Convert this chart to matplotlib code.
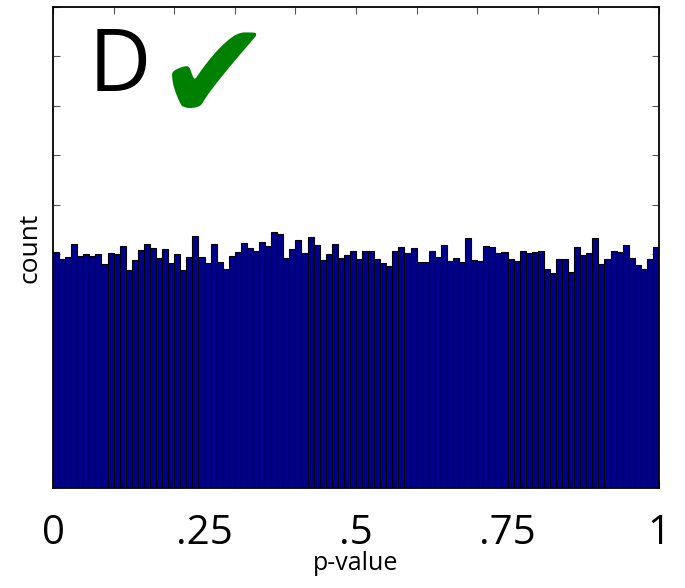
import matplotlib
matplotlib.use("Agg")
import matplotlib.pyplot as plt
import numpy as np

# bar heights (counts) for 100 equal-width p-value bins on [0, 1]
counts = [504, 491, 494, 521, 496, 500, 496, 500, 481, 502,
          500, 518, 469, 488, 509, 522, 512, 493, 510, 482,
          500, 469, 495, 537, 495, 483, 521, 484, 471, 497,
          505, 524, 512, 506, 525, 517, 545, 542, 493, 511,
          529, 502, 536, 519, 488, 500, 521, 493, 498, 506,
          490, 507, 507, 491, 483, 477, 507, 514, 503, 512,
          485, 485, 507, 494, 519, 487, 493, 485, 533, 488,
          487, 517, 515, 503, 505, 490, 487, 507, 502, 505,
          507, 471, 463, 491, 490, 465, 515, 498, 502, 533,
          481, 491, 507, 504, 519, 493, 479, 471, 491, 515]
bin_edges = np.linspace(0, 1, len(counts) + 1)
xtick_marks = [0.0, 0.1, 0.2, 0.3, 0.4, 0.5, 0.6, 0.7, 0.8, 0.9, 1.0]
xlabel_pos = [0, 0.25, 0.5, 0.75, 1]
xlabel_txt = ["0", ".25", ".5", ".75", "1"]
ytick_marks = [100, 200, 300, 400, 500, 600, 700, 800, 900, 1000]
ylims = (28, 1000)

plt.rcParams['font.family'] = ['Open Sans', 'DejaVu Sans']

fig = plt.figure(figsize=(6.85, 5.88), dpi=100)
ax = fig.add_axes([53/685, 100/588, 606/685, 481/588])

widths = np.diff(bin_edges)
ax.bar(bin_edges[:-1], counts, width=widths, align='edge', bottom=0,
       color='#00008C', edgecolor='black', linewidth=0.8, zorder=2)

ax.set_xlim(0, 1)
ax.set_ylim(*ylims)
ax.set_axisbelow(True)

ax.xaxis.remove_overlapping_locs = False
ax.set_xticks(xtick_marks)
ax.set_xticklabels([])
ax.set_xticks(xlabel_pos, minor=True)
ax.set_xticklabels(xlabel_txt, minor=True, fontsize=29)
ax.tick_params(axis='x', which='minor', length=0, pad=18)
ax.tick_params(axis='x', which='major', direction='in', top=True, bottom=True,
               length=5, width=0.8, color='#555555')
ax.set_yticks(ytick_marks)
ax.set_yticklabels([])
ax.tick_params(axis='y', direction='in', left=True, right=True,
               length=5, width=0.8, color='#555555')

for s in ax.spines.values():
    s.set_linewidth(1.3)
    s.set_zorder(3)

ax.set_xlabel('p-value', fontsize=18, labelpad=-2)
ax.set_ylabel('count', fontsize=19, labelpad=4)

ax.text(0.058, 0.962, 'D', transform=ax.transAxes, fontsize=62,
        va='top', ha='left', color='black')
ax.text(0.17, 0.985, '\u2714', transform=ax.transAxes, fontsize=100,
        va='top', ha='left', color='#008000', family='DejaVu Sans')

fig.savefig('out.png', dpi=100)
